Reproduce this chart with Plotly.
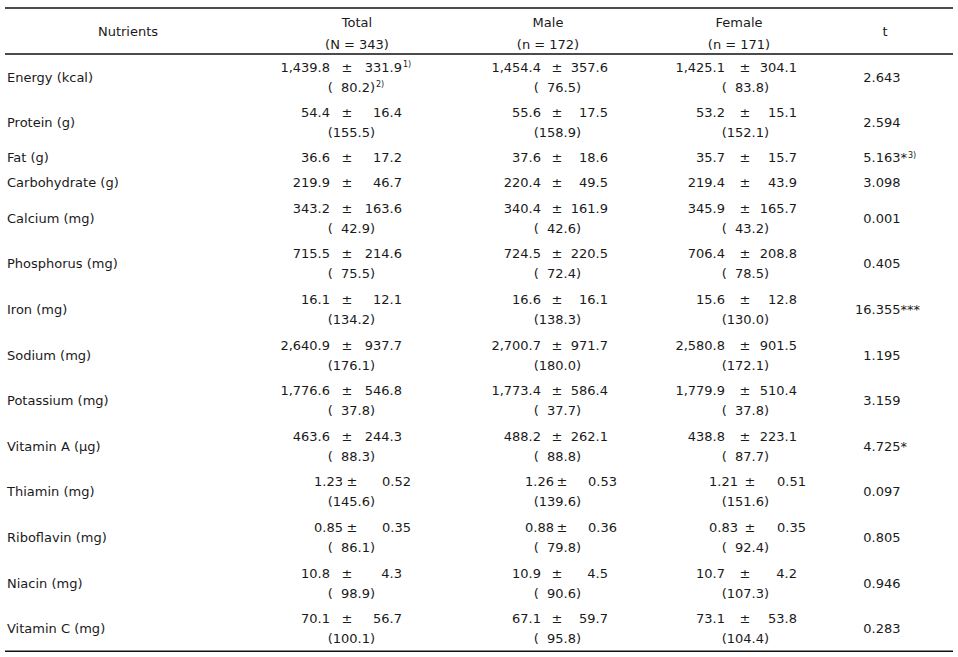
import plotly.graph_objects as go

# ---------------- data ----------------
nutrients = ["Energy (kcal)", "Protein (g)", "Fat (g)", "Carbohydrate (g)", "Calcium (mg)",
             "Phosphorus (mg)", "Iron (mg)", "Sodium (mg)", "Potassium (mg)", "Vitamin A (μg)",
             "Thiamin (mg)", "Riboflavin (mg)", "Niacin (mg)", "Vitamin C (mg)"]
decimals = [1, 1, 1, 1, 1, 1, 1, 1, 1, 1, 2, 2, 1, 1]

total_mean = [1439.8, 54.4, 36.6, 219.9, 343.2, 715.5, 16.1, 2640.9, 1776.6, 463.6, 1.23, 0.85, 10.8, 70.1]
total_sd = [331.9, 16.4, 17.2, 46.7, 163.6, 214.6, 12.1, 937.7, 546.8, 244.3, 0.52, 0.35, 4.3, 56.7]
total_pct = [80.2, 155.5, None, None, 42.9, 75.5, 134.2, 176.1, 37.8, 88.3, 145.6, 86.1, 98.9, 100.1]

male_mean = [1454.4, 55.6, 37.6, 220.4, 340.4, 724.5, 16.6, 2700.7, 1773.4, 488.2, 1.26, 0.88, 10.9, 67.1]
male_sd = [357.6, 17.5, 18.6, 49.5, 161.9, 220.5, 16.1, 971.7, 586.4, 262.1, 0.53, 0.36, 4.5, 59.7]
male_pct = [76.5, 158.9, None, None, 42.6, 72.4, 138.3, 180.0, 37.7, 88.8, 139.6, 79.8, 90.6, 95.8]

female_mean = [1425.1, 53.2, 35.7, 219.4, 345.9, 706.4, 15.6, 2580.8, 1779.9, 438.8, 1.21, 0.83, 10.7, 73.1]
female_sd = [304.1, 15.1, 15.7, 43.9, 165.7, 208.8, 12.8, 901.5, 510.4, 223.1, 0.51, 0.35, 4.2, 53.8]
female_pct = [83.8, 152.1, None, None, 43.2, 78.5, 130.0, 172.1, 37.8, 87.7, 151.6, 92.4, 107.3, 104.4]

t_values = [2.643, 2.594, 5.163, 3.098, 0.001, 0.405, 16.355, 1.195, 3.159, 4.725, 0.097, 0.805, 0.946, 0.283]
t_sig = ["", "", "*", "", "", "", "***", "", "", "*", "", "", "", ""]

headers = ["Nutrients", "Total", "Male", "Female", "t"]
header_n = ["", "(N = 343)", "(n = 172)", "(n = 171)", ""]

# ---------------- layout helpers ----------------
W, H = 958, 657
FONT = "DejaVu Sans"
FS = 13
COLOR = "#1a1a1a"
FSP = "\u2007"  # figure space (digit width)

X_LEFT, X_RIGHT = 5, 953
Y_TOP, Y_HEAD = 8, 54
ROW_H2, ROW_H1 = 45.6, 25.0
LINE_OFF = 10.0
Y_NUDGE = 1.5  # text baseline nudge

# column anchors: mean right edge, ± centre, sd right edge, paren right edge
cols = {
    "Total": dict(M=330, P=347, S=402, R=375, cx=357),
    "Male": dict(M=541, P=557, S=608, R=581, cx=548),
    "Female": dict(M=725, P=745, S=797, R=769, cx=739),
}
dec2_shift = dict(M=13, P=5, S=9)
T_LEFT = 855
LABEL_X = 7

nlines = [2 if p is not None else 1 for p in total_pct]
row_centers = []
y = Y_HEAD
for n in nlines:
    h = ROW_H2 if n == 2 else ROW_H1
    row_centers.append(y + h / 2 + Y_NUDGE)
    y += h
Y_BOTTOM = y


def fmt(v, d):
    return f"{v:,.{d}f}"


fig = go.Figure()


def add_text(xs, ys, texts, pos, size=FS):
    fig.add_trace(go.Scatter(
        x=xs, y=ys, text=texts, mode="text", textposition=pos,
        textfont=dict(family=FONT, size=size, color=COLOR),
        hoverinfo="skip", showlegend=False, cliponaxis=False))


# header
add_text([128], [(Y_TOP + Y_HEAD) / 2 + 2], [headers[0]], "middle center")
for name, n in zip(headers[1:4], header_n[1:4]):
    c = cols[name]
    add_text([c["cx"], c["cx"]], [23.5, 45.5], [name, n], "middle center")
add_text([885], [(Y_TOP + Y_HEAD) / 2 + 2], [headers[4]], "middle center")

# row labels
add_text([LABEL_X] * len(nutrients), row_centers, nutrients, "middle right")

# value columns
for name, means, sds, pcts in [("Total", total_mean, total_sd, total_pct),
                               ("Male", male_mean, male_sd, male_pct),
                               ("Female", female_mean, female_sd, female_pct)]:
    c = cols[name]
    mx, my, mt = [], [], []
    px_, py_ = [], []
    sx, sy, st = [], [], []
    rx, ry, rt = [], [], []
    for i in range(len(nutrients)):
        d = decimals[i]
        sh = dec2_shift if d == 2 else dict(M=0, P=0, S=0)
        yl = row_centers[i] - LINE_OFF if nlines[i] == 2 else row_centers[i]
        mx.append(c["M"] + sh["M"]); my.append(yl); mt.append(fmt(means[i], d))
        px_.append(c["P"] + sh["P"]); py_.append(yl)
        sx.append(c["S"] + sh["S"]); sy.append(yl); st.append(fmt(sds[i], d))
        if pcts[i] is not None:
            s = fmt(pcts[i], 1)
            if pcts[i] < 100:
                s = FSP + s
            rx.append(c["R"]); ry.append(row_centers[i] + LINE_OFF); rt.append("(" + s + ")")
    add_text(mx, my, mt, "middle left")
    add_text(px_, py_, ["±"] * len(px_), "middle center")
    add_text(sx, sy, st, "middle left")
    add_text(rx, ry, rt, "middle left")
    if name == "Total":
        # footnote markers on the first row
        add_text([c["S"] + 1], [row_centers[0] - LINE_OFF - 3], ["1)"], "middle right", size=8)
        add_text([c["R"] + 1], [row_centers[0] + LINE_OFF - 3], ["2)"], "middle right", size=8)

# t column (decimal aligned)
t_txt = []
for v, s in zip(t_values, t_sig):
    txt = f"{v:.3f}"
    if v < 10:
        txt = FSP + txt
    t_txt.append(txt + s)
add_text([T_LEFT] * len(t_values), row_centers, t_txt, "middle right")
# footnote 3) after Fat's asterisk
fat_i = nutrients.index("Fat (g)")
add_text([T_LEFT + 53], [row_centers[fat_i] - 3], ["3)"], "middle right", size=8)

# rules
for yy in [Y_TOP, Y_HEAD, Y_BOTTOM]:
    fig.add_shape(type="line", x0=X_LEFT, x1=X_RIGHT, y0=yy, y1=yy, xref="x", yref="y",
                  line=dict(color="#111111", width=1.6))

fig.update_layout(
    width=W, height=H, margin=dict(l=0, r=0, t=0, b=0),
    paper_bgcolor="white", plot_bgcolor="white", showlegend=False,
    xaxis=dict(range=[0, W], visible=False, fixedrange=True),
    yaxis=dict(range=[H, 0], visible=False, fixedrange=True),
)

fig.write_html("out.html", config={"displayModeBar": False},
               post_script="document.body.style.margin='0';")
